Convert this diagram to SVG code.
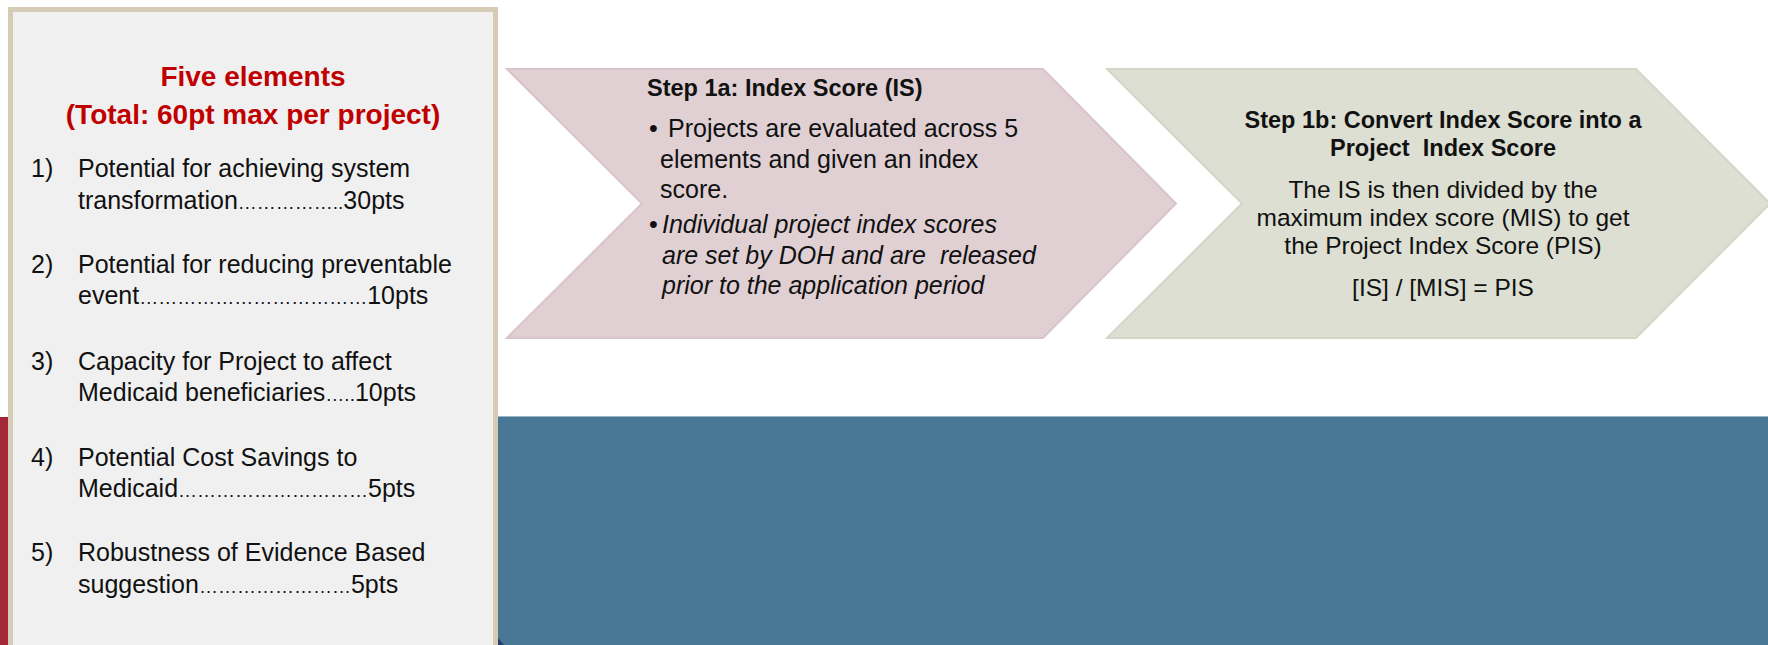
<svg xmlns="http://www.w3.org/2000/svg" width="1768" height="645" viewBox="0 0 1768 645">
<style>
text{font-family:"Liberation Sans",Arial,sans-serif;fill:#111}
.title{font-size:28px;font-weight:bold;fill:#c00000;text-anchor:middle}
.item{font-size:25px}
.dots{font-size:19px}
.h{font-size:23.5px;font-weight:bold}
.b1{font-size:25px}
.b2{font-size:24.5px;text-anchor:middle}
.it{font-style:italic}
.chev1{fill:#e0d0d3;stroke:#d9c5c9;stroke-width:2}
.chev2{fill:#dcdfd2;stroke:#d3d7c8;stroke-width:2}
</style>
<rect width="1768" height="645" fill="#ffffff"/>
<g id="background">
<rect x="0" y="417" width="12" height="228" fill="#a32739"/>
<rect x="496" y="416" width="1272" height="229" fill="#497896"/>
<line x1="498" y1="416.5" x2="1768" y2="416.5" stroke="#9db7c8" stroke-width="1"/>
<polygon points="498,638 498,645 504,645" fill="#27406b"/>
</g>
<g id="panel-five-elements">
<rect x="10.5" y="9.5" width="485" height="645" fill="#f0f0f0" stroke="#d6ccb5" stroke-width="5"/>
<text class="title" x="253" y="86">Five elements</text>
<text class="title" x="253" y="124">(Total: 60pt max per project)</text>
<text class="item" x="31" y="177">1)</text>
<text class="item" x="78" y="177">Potential for achieving system</text>
<text class="item" x="78" y="209">transformation<tspan class="dots">……………..</tspan>30pts</text>
<text class="item" x="31" y="273">2)</text>
<text class="item" x="78" y="273">Potential for reducing preventable</text>
<text class="item" x="78" y="304">event<tspan class="dots">………………………………</tspan>10pts</text>
<text class="item" x="31" y="370">3)</text>
<text class="item" x="78" y="370">Capacity for Project to affect</text>
<text class="item" x="78" y="401">Medicaid beneficiaries<tspan class="dots">…..</tspan>10pts</text>
<text class="item" x="31" y="466">4)</text>
<text class="item" x="78" y="466">Potential Cost Savings to</text>
<text class="item" x="78" y="497">Medicaid<tspan class="dots">…………………………</tspan>5pts</text>
<text class="item" x="31" y="561">5)</text>
<text class="item" x="78" y="561">Robustness of Evidence Based</text>
<text class="item" x="78" y="593">suggestion<tspan class="dots">……………………</tspan>5pts</text>
</g>
<g id="step-1a">
<path class="chev1" d="M507,69 L1043,69 L1176,203.5 L1043,338 L507,338 L642,203.5 Z"/>
<text class="h" x="647" y="96">Step 1a: Index Score (IS)</text>
<text class="b1" x="649" y="137">•</text>
<text class="b1" x="668" y="137">Projects are evaluated across 5</text>
<text class="b1" x="660" y="168">elements and given an index</text>
<text class="b1" x="660" y="198">score.</text>
<text class="b1" x="649" y="233">•</text>
<text class="b1 it" x="662" y="233">Individual project index scores</text>
<text class="b1 it" x="662" y="264" xml:space="preserve">are set by DOH and are  released</text>
<text class="b1 it" x="662" y="294">prior to the application period</text>
</g>
<g id="step-1b">
<path class="chev2" d="M1107,69 L1636,69 L1770,203.5 L1636,338 L1107,338 L1242,203.5 Z"/>
<text class="h" x="1443" y="128" text-anchor="middle">Step 1b: Convert Index Score into a</text>
<text class="h" x="1443" y="156" text-anchor="middle" xml:space="preserve">Project  Index Score</text>
<text class="b2" x="1443" y="198">The IS is then divided by the</text>
<text class="b2" x="1443" y="226">maximum index score (MIS) to get</text>
<text class="b2" x="1443" y="254">the Project Index Score (PIS)</text>
<text class="b2" x="1443" y="296">[IS] / [MIS] = PIS</text>
</g>
<g id="connectors"></g>
</svg>
